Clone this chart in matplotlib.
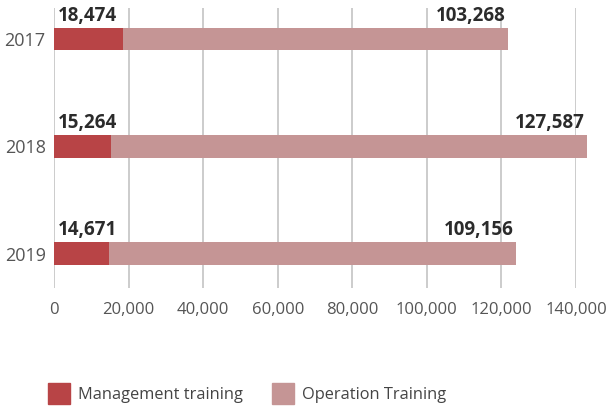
import matplotlib
matplotlib.use("Agg")
import matplotlib.pyplot as plt
from matplotlib.patches import Patch

plt.rcParams['font.family'] = ['Open Sans', 'DejaVu Sans']

years = ["2017", "2018", "2019"]
management = [18474, 15264, 14671]
operation = [103268, 127587, 109156]
xticks = [0, 20000, 40000, 60000, 80000, 100000, 120000, 140000]

mgmt_color = "#b84446"
ops_color = "#c59595"
grid_color = "#c8c8c8"

fig = plt.figure(figsize=(6.09, 4.11), dpi=100)
ax = fig.add_axes([54 / 609, 1 - 288 / 411, 522 / 609, 280 / 411])

ypos = list(range(len(years)))
bar_h = 0.21
ax.barh(ypos, management, height=bar_h, color=mgmt_color, zorder=3, clip_on=False)
ax.barh(ypos, operation, left=management, height=bar_h, color=ops_color,
        zorder=3, clip_on=False)

# value labels sit just above each bar
for y, m, o in zip(ypos, management, operation):
    ax.text(1000, y - bar_h / 2 - 0.02, f"{m:,}", ha="left", va="bottom",
            fontsize=13.5, fontweight="bold", color="#2b2b2b", clip_on=False)
    ax.text(m + o - 500, y - bar_h / 2 - 0.02, f"{o:,}", ha="right", va="bottom",
            fontsize=13.5, fontweight="bold", color="#2b2b2b", clip_on=False)

ax.set_xlim(0, 140000)
ax.set_ylim(2.32, -0.29)
ax.set_xticks(xticks)
ax.set_xticklabels([f"{v:,}" for v in xticks], fontsize=12, color="#555555")
ax.set_yticks(ypos)
ax.set_yticklabels(years, fontsize=13, color="#555555")
ax.tick_params(axis="both", length=0, pad=6)
ax.tick_params(axis="x", pad=10)

ax.grid(axis="x", color=grid_color, linewidth=1.3, zorder=0)
for s in ax.spines.values():
    s.set_visible(False)

handles = [Patch(color=mgmt_color, label="Management training"),
           Patch(color=ops_color, label="Operation Training")]
fig.legend(handles=handles, loc="lower left", bbox_to_anchor=(0.055, -0.02),
           ncol=2, frameon=False, fontsize=11.8, handlelength=1.3,
           handleheight=1.6, handletextpad=0.5, columnspacing=1.8,
           labelcolor="#444444")

fig.savefig("out.png", dpi=100)
